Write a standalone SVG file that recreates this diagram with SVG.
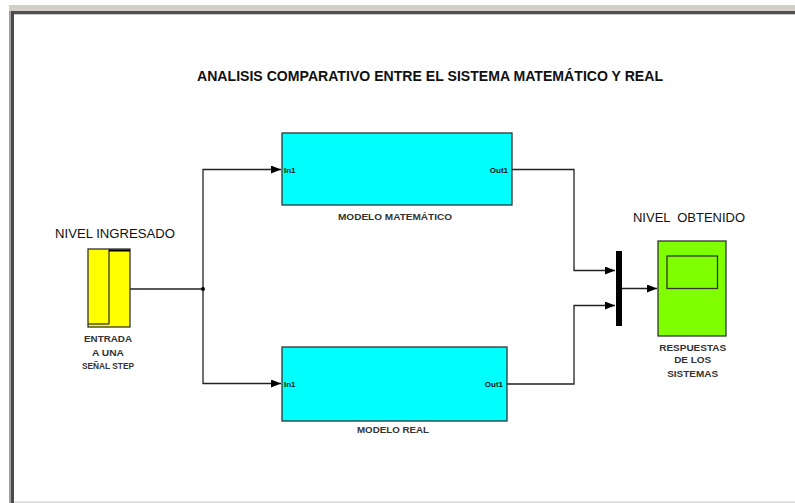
<svg xmlns="http://www.w3.org/2000/svg" width="795" height="503" viewBox="0 0 795 503">
<defs>
<style>
.big{font-family:"Liberation Sans",Arial,sans-serif;fill:#111}
.sm{font-family:"Liberation Sans",Arial,sans-serif;font-size:9px;font-weight:bold;fill:#333}
.port{font-family:"Liberation Sans",Arial,sans-serif;font-size:8px;font-weight:bold;fill:#111}
.wire{fill:none;stroke:#222;stroke-width:1.3}
.blk{stroke:#333;stroke-width:1.3}
</style>
<marker id="ah" markerWidth="10" markerHeight="8" refX="10" refY="4" orient="auto" markerUnits="userSpaceOnUse">
<path d="M0,0 L10,4 L0,8 Z" fill="#000"/>
</marker>
</defs>
<rect x="0" y="0" width="795" height="503" fill="#fff"/>
<!-- window frame -->
<rect x="9" y="5" width="786" height="6" fill="#d4d0c8"/>
<rect x="9" y="11" width="786" height="3" fill="#505050"/>
<rect x="9" y="14" width="786" height="1" fill="#c8c8c8"/>
<rect x="9" y="11" width="2" height="492" fill="#a0a0a0"/>
<rect x="11" y="11" width="3" height="492" fill="#4a4a4a"/>
<rect x="14" y="501" width="781" height="2" fill="#e0e0e0"/>

<text class="big" x="197" y="81" font-size="15" font-weight="bold" textLength="466" lengthAdjust="spacingAndGlyphs">ANALISIS COMPARATIVO ENTRE EL SISTEMA MATEMÁTICO Y REAL</text>

<g id="connectors">
<path class="wire" d="M130,289 H203"/>
<path class="wire" d="M203,289 V169.5 H281" marker-end="url(#ah)"/>
<path class="wire" d="M203,289 V383.5 H281" marker-end="url(#ah)"/>
<circle cx="203" cy="289" r="2" fill="#000"/>
<path class="wire" d="M512,169.5 H574 V270.5 H615" marker-end="url(#ah)"/>
<path class="wire" d="M507,384 H574 V305.5 H615" marker-end="url(#ah)"/>
<path class="wire" d="M622,288.5 H657" marker-end="url(#ah)"/>
</g>

<g id="step">
<text class="big" x="55" y="238.3" font-size="12.5" textLength="120" lengthAdjust="spacingAndGlyphs">NIVEL INGRESADO</text>
<rect x="88" y="249" width="42" height="78" fill="#ffff00" class="blk"/>
<line x1="109" y1="249" x2="109" y2="324" stroke="#333" stroke-width="1.3"/>
<line x1="88" y1="324" x2="109" y2="324" stroke="#333" stroke-width="1.3"/>
<line x1="109" y1="250.5" x2="130" y2="250.5" stroke="#000" stroke-width="2"/>
<text class="sm" x="108" y="341.7" text-anchor="middle" textLength="48" lengthAdjust="spacingAndGlyphs">ENTRADA</text>
<text class="sm" x="108" y="356" text-anchor="middle" textLength="32" lengthAdjust="spacingAndGlyphs">A UNA</text>
<text class="sm" x="108" y="369.3" text-anchor="middle" textLength="52" lengthAdjust="spacingAndGlyphs">SEÑAL STEP</text>
</g>

<g id="modelo_matematico">
<rect x="282" y="133" width="230" height="72" fill="#00ffff" class="blk"/>
<text class="port" x="284" y="173">In1</text>
<text class="port" x="508" y="173" text-anchor="end">Out1</text>
<text class="sm" x="395" y="219.5" text-anchor="middle" textLength="114" lengthAdjust="spacingAndGlyphs">MODELO MATEMÁTICO</text>
</g>

<g id="modelo_real">
<rect x="282" y="347" width="225" height="74" fill="#00ffff" class="blk"/>
<text class="port" x="284" y="387">In1</text>
<text class="port" x="503" y="387" text-anchor="end">Out1</text>
<text class="sm" x="393" y="433" text-anchor="middle" textLength="72" lengthAdjust="spacingAndGlyphs">MODELO REAL</text>
</g>

<g id="mux">
<rect x="616" y="251" width="6" height="75" fill="#000"/>
</g>

<g id="scope">
<text class="big" x="633" y="222" font-size="12" textLength="112" lengthAdjust="spacingAndGlyphs" xml:space="preserve">NIVEL  OBTENIDO</text>
<rect x="658" y="241" width="68" height="95" fill="#80ff00" class="blk"/>
<rect x="667" y="256" width="50.5" height="32.5" fill="#80ff00" class="blk"/>
<text class="sm" x="692.7" y="350.7" text-anchor="middle" textLength="67" lengthAdjust="spacingAndGlyphs">RESPUESTAS</text>
<text class="sm" x="692.7" y="363.3" text-anchor="middle" textLength="37" lengthAdjust="spacingAndGlyphs">DE LOS</text>
<text class="sm" x="692.7" y="376.7" text-anchor="middle" textLength="51" lengthAdjust="spacingAndGlyphs">SISTEMAS</text>
</g>
</svg>
